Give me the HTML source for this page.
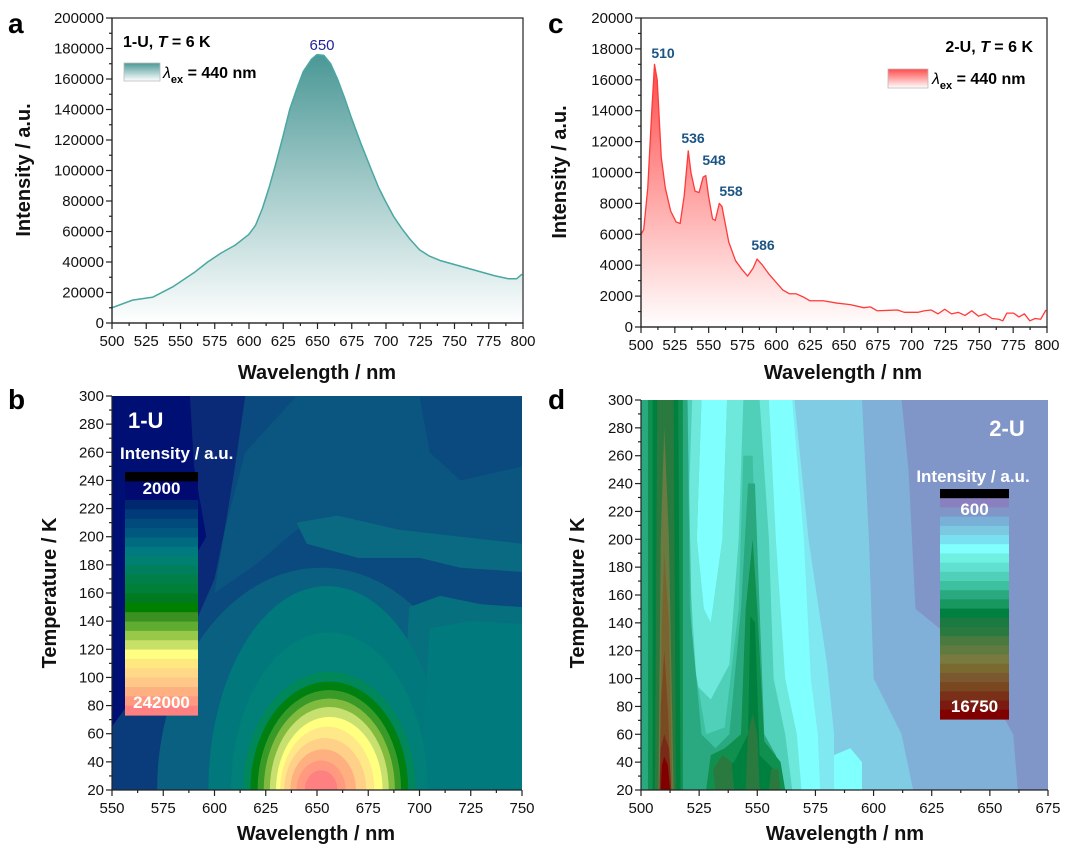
<!DOCTYPE html>
<html><head><meta charset="utf-8">
<style>
html,body{margin:0;padding:0;background:#fff;overflow:hidden;width:1080px;height:860px;}
svg{display:block;font-family:"Liberation Sans",Arial,sans-serif;}
.t{font-size:15px;fill:#111;}
.ti{font-size:20px;font-weight:bold;fill:#111;}
.pl{font-size:28px;font-weight:bold;fill:#000;}
</style></head>
<body>
<svg id="s" width="1080" height="860" viewBox="0 0 1080 860" xmlns="http://www.w3.org/2000/svg">
<defs>
 <linearGradient id="ga" x1="0" y1="0" x2="0" y2="1">
  <stop offset="0" stop-color="#ffffff"/><stop offset="1" stop-color="#4a9896"/>
 </linearGradient>
 <linearGradient id="gal" x1="0" y1="1" x2="0" y2="0">
  <stop offset="0" stop-color="#ffffff"/><stop offset="1" stop-color="#4a9896"/>
 </linearGradient>
 <linearGradient id="gc" x1="0" y1="0" x2="0" y2="1">
  <stop offset="0" stop-color="#ffffff"/><stop offset="1" stop-color="#ff4a4a"/>
 </linearGradient>
 <linearGradient id="gcl" x1="0" y1="1" x2="0" y2="0">
  <stop offset="0" stop-color="#ffffff"/><stop offset="1" stop-color="#ff4a4a"/>
 </linearGradient>
 <clipPath id="cb"><rect x="112" y="396" width="410" height="394"/></clipPath>
 <clipPath id="cd"><rect x="641" y="400" width="407" height="390"/></clipPath>
</defs>

<!-- Panel a -->
<g transform="translate(112,323) scale(1.3667,-0.001525) translate(-500,0)">
 <polygon fill="url(#ga)" points="500,0 500,10000 515,15000 530,17000 545,24000 560,33000 570,40000 580,46000 590,51000 600,58000 605,64000 610,75000 615,89000 620,105000 625,122000 630,140000 635,153000 640,165000 646,173000 650,176000 655,175500 660,170000 665,160000 670,148000 675,135000 682,118000 690,100000 695,89000 700,80000 706,70000 712,62000 718,55000 725,48000 732,44000 740,41000 760,36000 780,31000 790,29000 796,29000 800,32000 800,0"/>
 <polyline fill="none" stroke="#4aa7a2" stroke-width="1.5" vector-effect="non-scaling-stroke" stroke-linejoin="round" points="500,10000 515,15000 530,17000 545,24000 560,33000 570,40000 580,46000 590,51000 600,58000 605,64000 610,75000 615,89000 620,105000 625,122000 630,140000 635,153000 640,165000 646,173000 650,176000 655,175500 660,170000 665,160000 670,148000 675,135000 682,118000 690,100000 695,89000 700,80000 706,70000 712,62000 718,55000 725,48000 732,44000 740,41000 760,36000 780,31000 790,29000 796,29000 800,32000"/>
</g>
<text x="123" y="47" style="font-size:16px;font-weight:bold">1-U, <tspan font-style="italic">T</tspan> = 6 K</text>
<rect x="124" y="63" width="36" height="18" fill="url(#gal)" stroke="#bbb" stroke-width="0.8"/>
<text x="163" y="78" style="font-size:16px;font-weight:bold"><tspan font-style="italic" font-weight="normal">λ</tspan><tspan font-size="11" dy="5">ex</tspan><tspan dy="-5"> = 440 nm</tspan></text>
<text x="322" y="50" text-anchor="middle" style="font-size:15px;fill:#22229a">650</text>

<!-- Panel c -->
<g transform="translate(641,327) scale(1.35,-0.01545) translate(-500,0)">
 <polygon id="cpoly" fill="url(#gc)" points=""/>
 <polyline id="cline" fill="none" stroke="#ff3a3a" stroke-width="1.3" vector-effect="non-scaling-stroke" stroke-linejoin="round" points=""/>
</g>
<text x="1033" y="52" text-anchor="end" style="font-size:16px;font-weight:bold">2-U, <tspan font-style="italic">T</tspan> = 6 K</text>
<rect x="888" y="69" width="40" height="19" fill="url(#gcl)" stroke="#bbb" stroke-width="0.8"/>
<text x="932" y="84" style="font-size:16px;font-weight:bold"><tspan font-style="italic" font-weight="normal">λ</tspan><tspan font-size="11" dy="5">ex</tspan><tspan dy="-5"> = 440 nm</tspan></text>
<g style="font-size:14px;font-weight:bold;fill:#1c5585" text-anchor="middle">
 <text x="663" y="58">510</text><text x="693" y="143">536</text><text x="714" y="165">548</text><text x="731" y="196">558</text><text x="763" y="250">586</text>
</g>

<!-- Panel b contour -->
<g clip-path="url(#cb)">
<g transform="translate(112,790) scale(2.05,-1.407) translate(-550,-20)">
 <rect x="550" y="20" width="200" height="280" fill="#0a4a7e"/>
 <polygon fill="#0a2a78" points="550,20 560,20 570,60 585,120 600,170 605,205 610,250 615,300 550,300"/>
 <polygon fill="#000f74" points="550,65 560,85 575,140 590,185 596,200 590,250 588,300 550,300"/>
 <polygon fill="#0a3c7c" points="550,20 595,20 590,60 575,100 560,85 550,65"/>
 <polygon fill="#0a5680" points="640,300 700,300 705,260 720,240 750,250 750,190 700,200 660,215 640,205 620,180 600,160 605,205 615,260"/>
 <polygon fill="#0a6a82" points="640,210 660,215 690,205 720,200 750,195 750,175 720,178 700,185 670,185 645,195"/>
 <ellipse cx="652" cy="20" rx="80" ry="158" fill="#0a6080"/>
 <polygon fill="#07707e" points="690,20 750,20 750,150 730,152 710,158 695,150"/>
 <ellipse cx="655" cy="20" rx="58" ry="145" fill="#00787c"/>
 <polygon fill="#007a7c" points="700,20 750,20 750,138 725,140 705,135"/>
 <ellipse cx="656" cy="20" rx="48" ry="112" fill="#008078"/>
 <ellipse cx="656" cy="20" rx="42" ry="84" fill="#00875a"/>
 <ellipse cx="656" cy="20" rx="38.5" ry="77" fill="#008010"/>
 <ellipse cx="656" cy="20" rx="35" ry="71" fill="#3a9a28"/>
 <ellipse cx="656" cy="20" rx="32" ry="65" fill="#80bb40"/>
 <ellipse cx="656" cy="20" rx="29" ry="59" fill="#c8e070"/>
 <ellipse cx="656" cy="20" rx="26" ry="52" fill="#ffff80"/>
 <ellipse cx="655" cy="20" rx="23" ry="45" fill="#ffe888"/>
 <ellipse cx="654" cy="20" rx="20" ry="37" fill="#ffd088"/>
 <ellipse cx="653" cy="20" rx="16" ry="29" fill="#ffb080"/>
 <ellipse cx="652" cy="20" rx="12" ry="21" fill="#ff9a80"/>
 <ellipse cx="652" cy="20" rx="8" ry="14" fill="#ff8080"/>
</g>
</g>
<g id="cbarb"></g>
<text x="128" y="428" style="font-size:22px;font-weight:bold;fill:#fff">1-U</text>
<text x="120" y="459" style="font-size:17px;font-weight:bold;fill:#fff">Intensity / a.u.</text>

<!-- Panel d contour -->
<g clip-path="url(#cd)">
<g transform="translate(641,790) scale(2.326,-1.393) translate(-500,-20)">
 <rect x="500" y="20" width="175" height="280" fill="#8096c8"/>
 <polygon fill="#80b0d8" points="500,20 662,20 660,60 650,90 640,120 618,150 615,250 612,300 500,300"/>
 <polygon fill="#80cce4" points="500,20 617,20 612,60 600,100 598,200 595,300 500,300"/>
 <polygon fill="#80e8f0" points="500,20 583,20 583,60 580,110 572,200 566,300 500,300"/>
 <polygon fill="#80ffff" points="500,20 577,20 576,60 573,100 570,200 565,300 500,300"/>
 <polygon fill="#80ffff" points="583,20 595,20 595,40 590,50 583,45"/>
 <polygon fill="#6ee8da" points="500,20 569,20 567,60 562,100 558,200 555,300 500,300"/>
 <polygon fill="#50d0b8" points="500,20 565,20 562,60 557,100 555,200 551,300 500,300"/>
 <polygon fill="#80ffff" points="526,300 537,300 535,200 530,140 527,150 524,200"/>
 <polygon fill="#6ee8da" points="522,300 526,300 524,200 527,150 530,140 535,200 537,300 544,300 542,200 538,110 530,85 524,95 520,200"/>
 <polygon fill="#3cc0a0" points="500,20 560,20 557,40 552,60 549,200 548,260 544,260 542,150 536,65 528,60 522,120 520,300 500,300"/>
 <polygon fill="#2aa880" points="517,300 520,300 521,150 526,60 532,50 538,60 543,150 546,240 549,240 551,150 553,60 558,45 560,20 500,20 500,300 517,300"/>
 <polygon fill="#10904e" points="503,20 518,20 518,300 503,300"/>
 <polygon fill="#10904e" points="528,20 562,20 560,40 553,55 550,150 548,200 545,150 543,60 536,50 530,45"/>
 <polygon fill="#00803e" points="505,20 517,20 516,300 505,300"/>
 <polygon fill="#00803e" points="533,20 558,20 557,35 551,45 549,140 547,145 546,60 540,40 535,35"/>
 <polygon fill="#2a7a40" points="506,20 515,20 514,300 507,300"/>
 <polygon fill="#2a7a40" points="532,20 540,20 539,40 535,45 531,35"/>
 <polygon fill="#2a7a40" points="545,20 551,20 550,60 548,75 546,60"/>
 <polygon fill="#2a7a40" points="555,20 560,20 559,35 556,35"/>
 <polygon fill="#6a7a40" points="507.5,20 514,20 512,200 510,280 508.5,200"/>
 <polygon fill="#7a6530" points="508,20 513.5,20 512,140 510,190 509,140"/>
 <polygon fill="#7a4a22" points="508,20 513,20 511.5,80 510,120 508.5,80"/>
 <polygon fill="#7a2a18" points="508,20 513,20 512,50 510,60 508.5,50"/>
 <polygon fill="#800000" points="508.5,20 512.5,20 511.5,38 510,44 509,38"/>
</g>
</g>
<g id="cbard"></g>
<text x="1007" y="436" text-anchor="middle" style="font-size:22px;font-weight:bold;fill:#fff">2-U</text>
<text x="973" y="482" text-anchor="middle" style="font-size:17px;font-weight:bold;fill:#fff">Intensity / a.u.</text>

<g id="axes"></g>

<!-- titles -->
<text class="pl" x="8" y="33">a</text>
<text class="pl" x="548" y="33">c</text>
<text class="pl" x="8" y="409">b</text>
<text class="pl" x="548" y="409">d</text>
<text class="ti" x="317" y="379" text-anchor="middle">Wavelength / nm</text>
<text class="ti" x="843" y="379" text-anchor="middle">Wavelength / nm</text>
<text class="ti" x="316" y="840" text-anchor="middle">Wavelength / nm</text>
<text class="ti" x="845" y="840" text-anchor="middle">Wavelength / nm</text>
<text class="ti" transform="translate(30,170) rotate(-90)" text-anchor="middle">Intensity / a.u.</text>
<text class="ti" transform="translate(566,172) rotate(-90)" text-anchor="middle">Intensity / a.u.</text>
<text class="ti" transform="translate(56,593) rotate(-90)" text-anchor="middle">Temperature / K</text>
<text class="ti" transform="translate(584,593) rotate(-90)" text-anchor="middle">Temperature / K</text>
</svg>
<script>
var NS="http://www.w3.org/2000/svg";
function el(p,n,a,t){var e=document.createElementNS(NS,n);for(var k in a)e.setAttribute(k,a[k]);if(t!==undefined)e.textContent=t;p.appendChild(e);return e;}
var cd=[[500,6000],[502,6300],[505,9000],[508,14000],[510,17000],[512,16000],[515,11000],[518,9000],[522,7500],[526,6800],[529,6700],[532,8500],[535,11400],[537,10000],[540,8800],[543,8700],[546,9700],[548,9800],[550,8500],[553,7000],[555,6900],[558,8000],[560,7800],[565,5500],[570,4300],[575,3700],[579,3300],[583,3800],[586,4400],[590,4000],[595,3400],[600,2900],[605,2400],[610,2150],[615,2150],[620,1950],[625,1700],[635,1700],[645,1550],[655,1450],[665,1250],[670,1300],[675,1050],[690,1100],[695,950],[705,950],[710,1050],[715,1100],[720,850],[725,1150],[730,850],[735,950],[740,750],[745,1050],[750,700],[755,850],[760,550],[765,500],[768,400],[771,900],[776,900],[780,650],[784,850],[788,400],[792,550],[796,500],[800,1100]];
var s=cd.map(function(p){return p[0]+","+p[1]}).join(" ");
document.getElementById("cline").setAttribute("points",s);
document.getElementById("cpoly").setAttribute("points","500,0 "+s+" 800,0");
function cbar(id,x,w,y0,y1,cols,l1,l2,l1y,l2y){
 var g=document.getElementById(id),h=(y1-y0)/cols.length;
 cols.forEach(function(c,i){el(g,"rect",{x:x,y:(y0+i*h).toFixed(2),width:w,height:(h+0.6).toFixed(2),fill:c});});
 el(g,"text",{x:x+w/2,y:l1y,"text-anchor":"middle",style:"font-size:17px;font-weight:bold;fill:#fff"},l1);
 el(g,"text",{x:x+w/2,y:l2y,"text-anchor":"middle",style:"font-size:17px;font-weight:bold;fill:#fff"},l2);
}
cbar("cbarb",125,73,472,715,["#000000","#000a70","#000a70","#002870","#003a78","#004a7c","#00587e","#006a80","#007a7e","#008070","#007f5c","#007f48","#007f38","#007a20","#008000","#3a9020","#60ac30","#98c848","#c8e068","#ffff80","#ffe880","#ffd888","#ffc888","#ffb080","#ff9a80","#ff8080"],"2000","242000",494,708);
cbar("cbard",940,69,489,719,["#000000","#8a80c0","#8096c8","#78b0d8","#7cc8e0","#78e0f0","#80ffff","#70f0e0","#60e0d0","#50d0b8","#3cc0a0","#2aa880","#189860","#008040","#1a7a40","#2a7a40","#4a7a40","#607a40","#787a40","#7a6a30","#7a5830","#7a4820","#7a3018","#7a1a10","#800000"],"600","16750",515,712);
var ax=document.getElementById("axes");
function axis(o){
 var sx=(o.px1-o.px0)/(o.xmax-o.xmin), sy=(o.py0-o.py1)/(o.ymax-o.ymin);
 if(o.box) el(ax,"rect",{x:o.px0,y:o.py1,width:o.px1-o.px0,height:o.py0-o.py1,fill:"none",stroke:"#222","stroke-width":1.2});
 el(ax,"line",{x1:o.px0,y1:o.py1,x2:o.px0,y2:o.py0,stroke:"#222","stroke-width":1.2});
 el(ax,"line",{x1:o.px0,y1:o.py0,x2:o.px1,y2:o.py0,stroke:"#222","stroke-width":1.2});
 for(var v=o.xmin;v<=o.xmax+1e-6;v+=o.xstep/2){
  var X=o.px0+(v-o.xmin)*sx, maj=Math.abs(((v-o.xmin)/o.xstep)-Math.round((v-o.xmin)/o.xstep))<1e-6;
  el(ax,"line",{x1:X,y1:o.py0,x2:X,y2:o.py0+(maj?6:3),stroke:"#222","stroke-width":1.2});
  if(maj) el(ax,"text",{x:X,y:o.py0+23,"text-anchor":"middle",class:"t"},String(Math.round(v)));
 }
 for(var v=o.ymin;v<=o.ymax+1e-6;v+=o.ystep/2){
  var Y=o.py0-(v-o.ymin)*sy, maj=Math.abs(((v-o.ymin)/o.ystep)-Math.round((v-o.ymin)/o.ystep))<1e-6;
  el(ax,"line",{x1:o.px0,y1:Y,x2:o.px0-(maj?6:3),y2:Y,stroke:"#222","stroke-width":1.2});
  if(maj) el(ax,"text",{x:o.px0-8,y:Y+5,"text-anchor":"end",class:"t"},String(Math.round(v)));
 }
}
axis({px0:112,px1:523,py0:323,py1:18,xmin:500,xmax:800,xstep:25,ymin:0,ymax:200000,ystep:20000,box:true});
axis({px0:641,px1:1047,py0:327,py1:18,xmin:500,xmax:800,xstep:25,ymin:0,ymax:20000,ystep:2000,box:true});
axis({px0:112,px1:522,py0:790,py1:396,xmin:550,xmax:750,xstep:25,ymin:20,ymax:300,ystep:20,box:false});
axis({px0:641,px1:1048,py0:790,py1:400,xmin:500,xmax:675,xstep:25,ymin:20,ymax:300,ystep:20,box:false});
</script>
</body></html>
